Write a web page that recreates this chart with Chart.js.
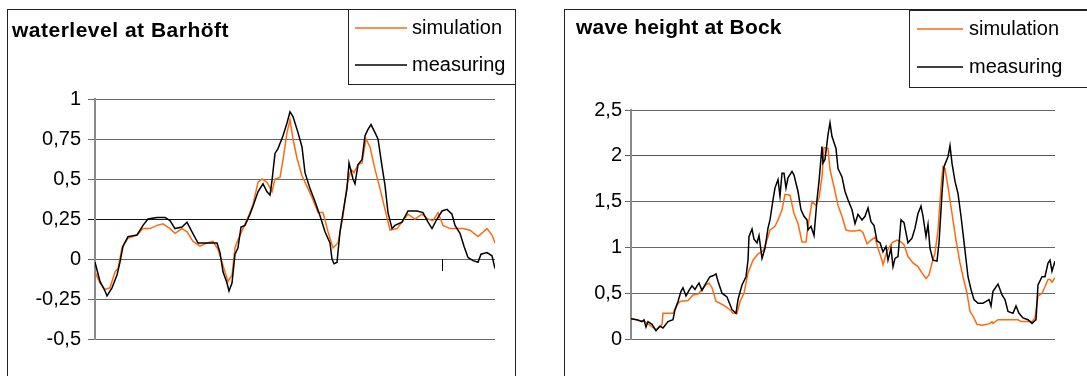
<!DOCTYPE html>
<html lang="en">
<head>
<meta charset="UTF-8">
<title>waterlevel at Barhöft / wave height at Bock</title>
<script src="https://cdn.jsdelivr.net/npm/chart.js@4.4.1/dist/chart.umd.min.js"></script>
<style>
  body { margin: 0; background: #fff; }
  .box { position: absolute; top: 0; height: 376px; }
</style>
</head>
<body>
<div class="box" style="left:0;width:545px"><canvas id="levelChart"></canvas></div>
<div class="box" style="left:545px;width:542px"><canvas id="waveChart"></canvas></div>

<script>
// --- waterlevel at Barhöft (time step, metres)
const levelSimT = [0,5,10,15,20,23,27,33,42,48, 55,62,68,75,80,87,92,98,105,112,
  118,123,128,133,137,140,143,148,153,158, 163,167,172,177,180,185,188,192,195,198,
  202,207,213,218,223,228,233,238,243,248, 252,256,259,263,267,271,275,280,285,290,
  295,302,308,313,320,327,333,338,343,348, 355,362,368,375,383,392,397,400]
const levelSim = [-0.08,-0.15,-0.19,-0.18,-0.08,-0.06,0.07,0.13,0.15,0.19, 0.19,0.21,0.22,0.19,0.16,0.19,0.17,0.11,0.08,0.1,
  0.11,0.06,-0.04,-0.14,-0.1,0.07,0.12,0.19,0.26,0.34, 0.48,0.5,0.48,0.42,0.5,0.51,0.62,0.79,0.87,0.75,
  0.63,0.52,0.44,0.37,0.29,0.29,0.17,0.07,0.1,0.27, 0.46,0.56,0.54,0.59,0.6,0.75,0.7,0.56,0.44,0.31,
  0.18,0.19,0.24,0.28,0.25,0.28,0.25,0.24,0.29,0.21, 0.19,0.19,0.19,0.18,0.14,0.19,0.15,0.1]
const levelMeasT = [0,5,10,12,17,22,25,28,33,42, 48,53,62,70,75,80,87,92,97,103,
  112,122,125,128,132,134,137,140,143,146, 150,155,158,163,168,172,175,177,180,183,
  188,192,195,198,203,207,210,215,220,225, 230,235,237,239,242,245,248,252,254,258,
  260,263,267,270,273,276,280,283,287,290, 293,297,300,307,313,322,328,333,337,342,
  347,352,357,360,365,369,373,378,383,386, 392,397,400]
const levelMeas = [-0.02,-0.14,-0.2,-0.23,-0.18,-0.1,-0.02,0.08,0.14,0.15, 0.21,0.25,0.26,0.26,0.24,0.19,0.2,0.23,0.17,0.1,
  0.1,0.1,0.04,-0.08,-0.15,-0.2,-0.15,0.03,0.07,0.2, 0.21,0.28,0.33,0.42,0.47,0.42,0.4,0.49,0.66,0.69,
  0.77,0.85,0.92,0.89,0.79,0.7,0.54,0.44,0.36,0.27, 0.17,0.1,0.0,-0.03,-0.02,0.17,0.29,0.44,0.6,0.5,
  0.47,0.59,0.62,0.77,0.81,0.84,0.79,0.75,0.58,0.46, 0.29,0.19,0.21,0.23,0.3,0.3,0.29,0.23,0.19,0.25,
  0.3,0.31,0.28,0.21,0.16,0.08,0.01,-0.01,-0.02,0.03, 0.04,0.02,-0.06]
const levelTicks = [-0.5, -0.25, 0, 0.25, 0.5, 0.75, 1]

// --- wave height at Bock (time step, metres)
const waveSimT = [0,14,25,31,32,42,46,49,57,62, 67,71,75,78,81,85,89,94,99,102,
  106,109,113,117,122,127,132,136,139,144, 147,151,154,159,163,167,171,175,177,181,
  185,188,191,193,197,199,203,207,211,215, 219,224,229,232,236,240,244,247,251,252,
  256,261,266,270,273,277,282,287,291,295, 298,301,304,307,310,312,314,317,321,325,
  329,332,336,339,342,346,351,356,359,361, 362,367,374,387,390,401,404,407,411,414,
  417,419,421,424]
const waveSim = [0.22,0.19,0.1,0.16,0.28,0.28,0.37,0.41,0.42,0.48, 0.49,0.54,0.59,0.61,0.56,0.41,0.39,0.36,0.32,0.28,
  0.28,0.41,0.5,0.72,0.86,0.93,0.96,1.08,1.19,1.23, 1.3,1.41,1.58,1.57,1.37,1.26,1.06,1.06,1.23,1.5,
  1.46,1.54,1.77,2.09,2.08,1.85,1.66,1.46,1.34,1.19, 1.18,1.18,1.19,1.16,1.04,1.08,1.11,0.99,0.86,0.81,
  0.96,1.05,1.08,1.06,1.03,0.9,0.83,0.79,0.72,0.66, 0.7,0.83,0.94,1.19,1.66,1.88,1.86,1.66,1.37,1.08,
  0.83,0.68,0.5,0.3,0.25,0.16,0.15,0.16,0.17,0.19, 0.17,0.21,0.21,0.21,0.19,0.19,0.23,0.47,0.5,0.57,
  0.65,0.65,0.62,0.67]
const waveMeasT = [0,6,11,13,15,17,21,25,29,32, 37,42,44,47,50,52,55,58,61,64,
  66,68,71,74,79,82,85,87,91,96, 101,105,107,111,115,117,118,121,123,126,
  128,131,134,137,139,142,144,147,149,151, 153,155,157,161,163,167,170,173,176,177,
  180,183,186,188,191,192,194,197,199,201, 205,207,211,214,217,221,224,227,231,234,
  237,240,243,246,249,252,255,257,260,262, 264,267,270,273,277,281,284,287,290,292,
  295,297,299,302,306,308,311,313,317,319, 321,324,327,330,333,337,340,343,347,352,
  358,360,362,367,371,374,377,382,385,388, 392,397,401,405,407,411,414,417,419,421, 424]
const waveMeas = [0.22,0.21,0.19,0.21,0.13,0.19,0.16,0.09,0.14,0.12, 0.19,0.21,0.32,0.41,0.52,0.56,0.47,0.53,0.58,0.54,
  0.58,0.61,0.53,0.59,0.68,0.69,0.71,0.63,0.5,0.46, 0.32,0.28,0.43,0.59,0.68,0.86,1.12,1.2,1.09,1.05,
  1.13,0.88,0.99,1.21,1.3,1.52,1.65,1.74,1.56,1.81, 1.81,1.65,1.76,1.83,1.79,1.61,1.41,1.34,1.3,1.19,
  1.23,1.13,1.52,1.72,2.1,1.92,1.96,2.23,2.36,2.21, 2.08,1.86,1.77,1.61,1.52,1.41,1.26,1.36,1.3,1.34,
  1.43,1.28,1.24,1.07,1.05,0.95,1.01,0.86,0.99,0.79, 0.88,0.9,1.3,1.27,1.05,1.1,1.21,1.37,1.45,1.34,
  1.12,1.25,0.99,0.86,0.85,1.05,1.59,1.88,1.99,2.11, 1.92,1.72,1.59,1.34,1.06,0.68,0.54,0.43,0.39,0.39,
  0.43,0.36,0.52,0.6,0.48,0.43,0.3,0.28,0.36,0.28, 0.23,0.21,0.17,0.21,0.59,0.68,0.68,0.83,0.86,0.74, 0.85]
const waveTicks = [0, 0.5, 1, 1.5, 2, 2.5]

const seriesNames = ['simulation', 'measuring']
const simColor = '#ff6a10'
const measColor = '#000000'
const FONT = "'Liberation Sans', Arial, sans-serif"

function pairs(xs, ys) {
	return xs.map((x, i) => ({ x: x, y: ys[i] }))
}

// frame, title and boxed legend drawn like the old spreadsheet chart
const framePlugin = {
	id: 'frame',
	afterDraw(chart, args, o) {
		const ctx = chart.ctx
		ctx.save()
		ctx.strokeStyle = '#222'
		ctx.lineWidth = 1
		ctx.strokeRect(o.frame[0] + 0.5, o.frame[1] + 0.5, o.frame[2], o.frame[3])
		ctx.strokeRect(o.legend[0] + 0.5, o.legend[1] + 0.5, o.legend[2], o.legend[3])

		// lone category tick hanging under the zero line (left chart only)
		if (o.xTick !== undefined) {
			const px = chart.scales.x.getPixelForValue(o.xTick)
			const py = chart.scales.y.getPixelForValue(0)
			ctx.strokeStyle = '#000'
			ctx.beginPath()
			ctx.moveTo(Math.round(px) + 0.5, py)
			ctx.lineTo(Math.round(px) + 0.5, py + 12)
			ctx.stroke()
		}

		ctx.fillStyle = '#000'
		ctx.font = 'bold 21px ' + FONT
		ctx.textBaseline = 'alphabetic'
		ctx.letterSpacing = o.titleSpacing || '0px'
		ctx.fillText(o.title, o.titlePos[0], o.titlePos[1])
		ctx.letterSpacing = '0px'

		ctx.font = '20px ' + FONT
		ctx.textBaseline = 'middle'
		chart.data.datasets.forEach((ds, i) => {
			const y = o.rows[i]
			ctx.strokeStyle = ds.borderColor
			ctx.lineWidth = 1.5
			ctx.beginPath()
			ctx.moveTo(o.line[0], y)
			ctx.lineTo(o.line[1], y)
			ctx.stroke()
			ctx.fillText(ds.label, o.textX, y)
		})
		ctx.restore()
	}
}

function makeChart(id, opts) {
	return new Chart(document.getElementById(id), {
		type: 'line',
		data: {
			datasets: [{
				label: seriesNames[0],
				data: pairs(opts.simT, opts.sim),
				borderColor: simColor,
				borderWidth: 1.5,
				order: 1
			}, {
				label: seriesNames[1],
				data: pairs(opts.measT, opts.meas),
				borderColor: measColor,
				borderWidth: 1.5,
				order: 0
			}]
		},
		plugins: [framePlugin],
		options: {
			responsive: true,
			maintainAspectRatio: false,
			animation: false,
			elements: { point: { radius: 0 }, line: { tension: 0 } },
			layout: { padding: opts.padding },
			scales: {
				x: { type: 'linear', min: 0, max: opts.xMax, display: false },
				y: {
					min: opts.ticks[0],
					max: opts.ticks[opts.ticks.length - 1],
					afterBuildTicks: (s) => { s.ticks = opts.ticks.map(v => ({ value: v })) },
					afterFit: (s) => { s.width = opts.axisWidth },
					border: { display: true, color: '#8a8a8a', width: 2 },
					grid: {
						color: (c) => opts.gridColor(c.tick.value),
						lineWidth: 1,
						tickLength: opts.tickLen
					},
					ticks: {
						padding: opts.tickPad,
						color: '#000',
						font: { family: FONT, size: 20 },
						callback: (v) => String(v).replace('.', ',')
					}
				}
			},
			plugins: {
				legend: { display: false },
				tooltip: { enabled: false },
				frame: opts.frame
			}
		}
	})
}

makeChart('levelChart', {
	simT: levelSimT, sim: levelSim, measT: levelMeasT, meas: levelMeas,
	ticks: levelTicks, xMax: 400,
	padding: { left: 0, top: 99, right: 50, bottom: 37 },
	axisWidth: 95, tickLen: 7, tickPad: 7,
	gridColor: (v) => v === 0.25 ? '#111' : '#666',
	frame: {
		frame: [7, 9, 508, 420],
		legend: [348, 9, 167, 75],
		title: 'waterlevel at Barhöft', titlePos: [12, 37], titleSpacing: '0.5px',
		line: [355, 407], textX: 412, rows: [28, 65],
		xTick: 347
	}
})

makeChart('waveChart', {
	simT: waveSimT, sim: waveSim, measT: waveMeasT, meas: waveMeas,
	ticks: waveTicks, xMax: 424,
	padding: { left: 0, top: 110, right: 32, bottom: 37 },
	axisWidth: 86, tickLen: 6, tickPad: 3,
	gridColor: (v) => v === 2 ? '#555' : '#666',
	frame: {
		frame: [19, 9, 600, 420],
		legend: [364, 10, 300, 77],
		title: 'wave height at Bock', titlePos: [31, 34], titleSpacing: '0.2px',
		line: [372, 418], textX: 424, rows: [29, 67]
	}
})
</script>
</body>
</html>
